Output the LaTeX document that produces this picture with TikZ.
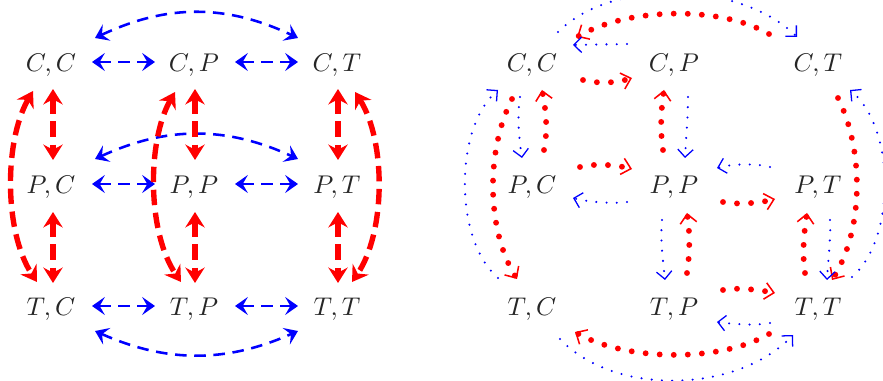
\documentclass[tikz,border=0pt]{standalone}
\usetikzlibrary{arrows.meta,calc}
\begin{document}
\begin{tikzpicture}[x=0.3906pt,y=-0.3906pt,
  lbl/.style={anchor=base,inner sep=0pt,text=black!85},
  bdash/.style={draw=blue,line width=1pt,dash pattern=on 4.5pt off 3pt,
    arrows={Stealth[length=5pt,width=7pt,inset=2pt]-Stealth[length=5pt,width=7pt,inset=2pt]}},
  rdash/.style={draw=red,line width=2.1pt,dash pattern=on 6pt off 3pt,
    arrows={Stealth[length=6pt,width=7.5pt,inset=2pt]-Stealth[length=6pt,width=7.5pt,inset=2pt]}},
  rdot/.style={draw=red,line width=2.3pt,line cap=round,dash pattern=on 0pt off 5.5pt,
    arrows={-Straight Barb[line width=0.6pt,length=3.5pt,width=6.5pt]}},
  bdot/.style={draw=blue,line width=0.9pt,line cap=round,dash pattern=on 0pt off 4pt,
    arrows={-Straight Barb[line width=0.5pt,length=3pt,width=6pt]}}]
\useasboundingbox (0,0) rectangle (883,381);
\clip (0,0) rectangle (883,381);
% left diagram nodes
\node[lbl] (lCC) at (51,72) {$C,C$};
\node[lbl] (lCP) at (194,72) {$C,P$};
\node[lbl] (lCT) at (337,72) {$C,T$};
\node[lbl] (lPC) at (51,194) {$P,C$};
\node[lbl] (lPP) at (194,194) {$P,P$};
\node[lbl] (lPT) at (337,194) {$P,T$};
\node[lbl] (lTC) at (51,316) {$T,C$};
\node[lbl] (lTP) at (194,316) {$T,P$};
\node[lbl] (lTT) at (337,316) {$T,T$};
% right diagram nodes
\node[lbl] (rCC) at (532,72) {$C,C$};
\node[lbl] (rCP) at (674,72) {$C,P$};
\node[lbl] (rCT) at (818,72) {$C,T$};
\node[lbl] (rPC) at (532,194) {$P,C$};
\node[lbl] (rPP) at (674,194) {$P,P$};
\node[lbl] (rPT) at (818,194) {$P,T$};
\node[lbl] (rTC) at (532,316) {$T,C$};
\node[lbl] (rTP) at (674,316) {$T,P$};
\node[lbl] (rTT) at (818,316) {$T,T$};

% ---- left: blue horizontal
\foreach \r in {C,P,T}{
  \draw[bdash] ($(l\r C.base)+(41,-10)$) -- ($(l\r P.base)+(-39,-10)$);
  \draw[bdash] ($(l\r P.base)+(41,-10)$) -- ($(l\r T.base)+(-39,-10)$);
}
% blue arcs
\draw[bdash] ($(lCC.base)+(44,-34)$) .. controls +(72,-34) and +(-72,-34) .. ($(lCT.base)+(-39,-34)$);
\draw[bdash] ($(lPC.base)+(44,-35)$) .. controls +(72,-33) and +(-72,-33) .. ($(lPT.base)+(-39,-35)$);
\draw[bdash] ($(lTC.base)+(44,15)$) .. controls +(72,32) and +(-72,32) .. ($(lTT.base)+(-39,15)$);
% red verticals
\draw[rdash] ($(lCC.base)+(2,17)$) -- ($(lPC.base)+(2,-34)$);
\draw[rdash] ($(lPC.base)+(2,18)$) -- ($(lTC.base)+(2,-33)$);
\draw[rdash] ($(lCP.base)+(1,17)$) -- ($(lPP.base)+(1,-34)$);
\draw[rdash] ($(lPP.base)+(1,18)$) -- ($(lTP.base)+(1,-33)$);
\draw[rdash] ($(lCT.base)+(1,17)$) -- ($(lPT.base)+(1,-34)$);
\draw[rdash] ($(lPT.base)+(1,18)$) -- ($(lTT.base)+(1,-33)$);
% red curves
\draw[rdash] ($(lCC.base)+(-18,19)$) .. controls +(-29,50) and +(-33,-50) .. ($(lTC.base)+(-14,-34)$);
\draw[rdash] ($(lCP.base)+(-19,20)$) .. controls +(-28,49) and +(-34,-50) .. ($(lTP.base)+(-13,-34)$);
\draw[rdash] ($(lCT.base)+(18,20)$) .. controls +(31,49) and +(34,-50) .. ($(lTT.base)+(15,-34)$);

% ---- right diagram
\draw[rdot] ($(rCT.base)+(-49,-38)$) .. controls +(-50,-29) and +(50,-29) .. ($(rCC.base)+(45,-35)$);
\draw[bdot] ($(rCP.base)+(-47,-28)$) -- ($(rCC.base)+(41,-27)$);
\draw[bdot] ($(rCC.base)+(26,-40)$) .. controls +(55,-55) and +(-55,-55) .. ($(rCT.base)+(-21,-35)$);
\draw[rdot] ($(rCC.base)+(51,8)$) .. controls +(16,4) and +(-16,5) .. ($(rCP.base)+(-42,6)$);
\draw[rdot] ($(rPC.base)+(12,-44)$) .. controls +(4,-20) and +(4,20) .. ($(rCC.base)+(10,18)$);
\draw[bdot] ($(rCC.base)+(-12,25)$) .. controls +(-3,20) and +(-3,-20) .. ($(rPC.base)+(-10,-36)$);
\draw[rdot] ($(rCC.base)+(-20,27)$) .. controls +(-26,51) and +(-31,-49) .. ($(rTC.base)+(-15,-37)$);
\draw[bdot] ($(rTC.base)+(-34,-38)$) .. controls +(-44,-38) and +(-44,38) .. ($(rCC.base)+(-34,18)$);
\draw[rdot] ($(rPC.base)+(48,-27)$) .. controls +(15,-4) and +(-15,-4) .. ($(rPP.base)+(-42,-25)$);
\draw[bdot] ($(rPP.base)+(-47,8)$) .. controls +(-15,2) and +(15,4) .. ($(rPC.base)+(41,4)$);
\draw[rdot] ($(rPP.base)+(-11,-44)$) .. controls +(-3,-20) and +(-3,20) .. ($(rCP.base)+(-10,18)$);
\draw[bdot] ($(rCP.base)+(14,25)$) .. controls +(0,20) and +(1,-20) .. ($(rPP.base)+(11,-36)$);
\draw[bdot] ($(rPT.base)+(-48,-27)$) .. controls +(-15,-4) and +(15,-4) .. ($(rPP.base)+(43,-26)$);
\draw[rdot] ($(rPP.base)+(49,8)$) .. controls +(15,3) and +(-15,4) .. ($(rPT.base)+(-43,5)$);
\draw[rdot] ($(rCT.base)+(20,26)$) .. controls +(26,52) and +(32,-50) .. ($(rTT.base)+(14,-36)$);
\draw[bdot] ($(rTT.base)+(34,-39)$) .. controls +(44,-38) and +(46,38) .. ($(rCT.base)+(32,18)$);
\draw[bdot] ($(rPT.base)+(12,26)$) .. controls +(1,20) and +(1,-20) .. ($(rTT.base)+(9,-36)$);
\draw[rdot] ($(rTT.base)+(-13,-43)$) .. controls +(-3,-20) and +(-3,20) .. ($(rPT.base)+(-11,19)$);
\draw[rdot] ($(rTP.base)+(13,-43)$) .. controls +(3,-20) and +(3,20) .. ($(rPP.base)+(13,19)$);
\draw[bdot] ($(rPP.base)+(-12,26)$) .. controls +(-2,20) and +(-2,-20) .. ($(rTP.base)+(-9,-36)$);
\draw[rdot] ($(rTP.base)+(49,-26)$) .. controls +(15,-3) and +(-15,-3) .. ($(rTT.base)+(-43,-23)$);
\draw[bdot] ($(rTT.base)+(-48,7)$) .. controls +(-15,3) and +(15,2) .. ($(rTP.base)+(43,6)$);
\draw[rdot] ($(rTT.base)+(-49,18)$) .. controls +(-50,29) and +(50,29) .. ($(rTC.base)+(43,16)$);
\draw[bdot] ($(rTC.base)+(28,23)$) .. controls +(55,58) and +(-55,58) .. ($(rTT.base)+(-25,19)$);
\end{tikzpicture}
\end{document}
